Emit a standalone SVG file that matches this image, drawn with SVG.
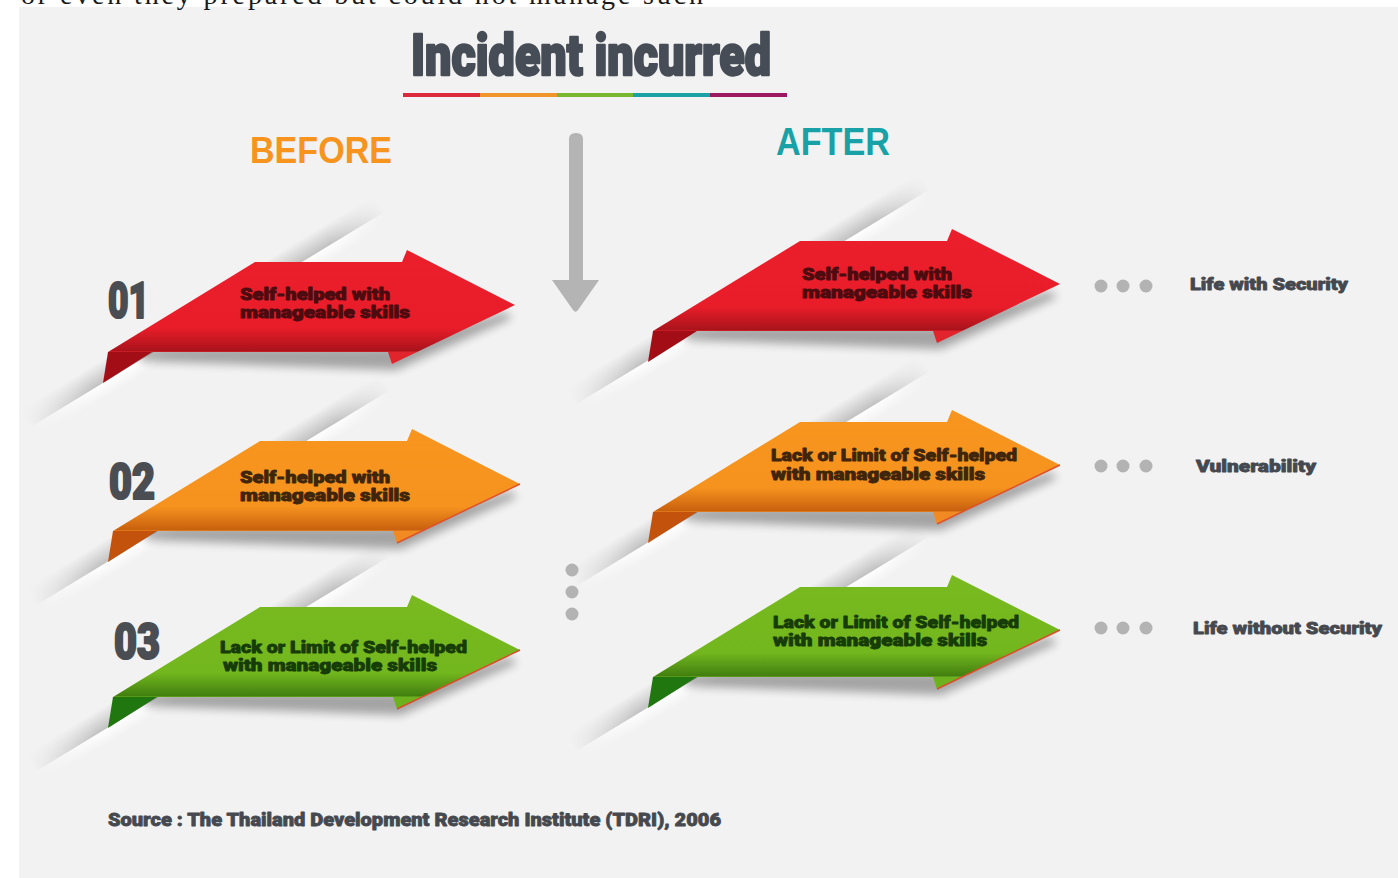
<svg xmlns="http://www.w3.org/2000/svg" xmlns:xlink="http://www.w3.org/1999/xlink" width="1398" height="878" viewBox="0 0 1398 878">
  <style>
    .heavy { font-family: Roboto, Inter, "Liberation Sans", sans-serif; font-weight: 900; stroke-linejoin: round; }
    .num { font-size: 50px; fill: #4a4d52; stroke: #4a4d52; stroke-width: 2.2px; }
    .lbl { font-size: 16px; stroke-width: 0.8px; }
    .side { font-size: 17px; fill: #45494f; stroke: #45494f; stroke-width: 0.8px; }
    .dot { fill: #b3b3b3; }
    .shadow { fill: #000; opacity: 0.32; filter: url(#soft); }
  </style>
  <defs>
    <filter id="soft" x="-20%" y="-50%" width="140%" height="200%">
      <feGaussianBlur stdDeviation="5"/>
    </filter>
    <!-- ribbon fills: flat colour with a darker fold band near the bottom -->
    <linearGradient id="gRed" x1="0" y1="250" x2="0" y2="364" gradientUnits="userSpaceOnUse">
      <stop offset="0" stop-color="#ea1f2b"/>
      <stop offset="0.68" stop-color="#e91d2a"/>
      <stop offset="0.885" stop-color="#a9131b"/>
      <stop offset="0.895" stop-color="#e2242c"/>
      <stop offset="1" stop-color="#e2242c"/>
    </linearGradient>
    <linearGradient id="gOrange" x1="0" y1="250" x2="0" y2="364" gradientUnits="userSpaceOnUse">
      <stop offset="0" stop-color="#f7951f"/>
      <stop offset="0.68" stop-color="#f6931e"/>
      <stop offset="0.885" stop-color="#c8600e"/>
      <stop offset="0.895" stop-color="#f18a22"/>
      <stop offset="1" stop-color="#f18a22"/>
    </linearGradient>
    <linearGradient id="gGreen" x1="0" y1="250" x2="0" y2="364" gradientUnits="userSpaceOnUse">
      <stop offset="0" stop-color="#78ba1f"/>
      <stop offset="0.68" stop-color="#73b71e"/>
      <stop offset="0.885" stop-color="#427f10"/>
      <stop offset="0.895" stop-color="#6cb21e"/>
      <stop offset="1" stop-color="#6cb21e"/>
    </linearGradient>
    <!-- paper slit: shadow above a thin highlight, fading at both ends -->
    <linearGradient id="fadeLen" x1="0" y1="0" x2="415" y2="0" gradientUnits="userSpaceOnUse">
      <stop offset="0" stop-color="#fff" stop-opacity="0"/>
      <stop offset="0.18" stop-color="#fff" stop-opacity="1"/>
      <stop offset="0.85" stop-color="#fff" stop-opacity="1"/>
      <stop offset="1" stop-color="#fff" stop-opacity="0"/>
    </linearGradient>
    <linearGradient id="shadeV" x1="0" y1="-20" x2="0" y2="0" gradientUnits="userSpaceOnUse">
      <stop offset="0" stop-color="#b8b8b8" stop-opacity="0"/>
      <stop offset="1" stop-color="#b8b8b8" stop-opacity="0.85"/>
    </linearGradient>
    <linearGradient id="lightV" x1="0" y1="0" x2="0" y2="14" gradientUnits="userSpaceOnUse">
      <stop offset="0" stop-color="#ffffff" stop-opacity="0.9"/>
      <stop offset="1" stop-color="#ffffff" stop-opacity="0"/>
    </linearGradient>
    <mask id="streakMask" maskUnits="userSpaceOnUse" x="-10" y="-40" width="440" height="70">
      <rect x="0" y="-40" width="415" height="70" fill="url(#fadeLen)"/>
    </mask>
    <g id="streak">
      <g mask="url(#streakMask)">
        <rect x="0" y="-20" width="415" height="20" fill="url(#shadeV)"/>
        <rect x="0" y="0" width="415" height="14" fill="url(#lightV)"/>
      </g>
    </g>
    <!-- base ribbon arrow outline -->
    <path id="ribbon" d="M255,262 L402,262 L407,250 L515,305 L392,364 L388,352 L108,352 Z"/>
    <path id="ribbonShadow" d="M140,347 L392,347 L505,312 L512,318 L396,370 L140,361 Z"/>
    <path id="ribbonFold" d="M108,352 L152,352 L103,383 Z"/>
  </defs>

  <!-- page -->
  <rect x="0" y="0" width="1398" height="878" fill="#ffffff"/>
  <rect x="19" y="7" width="1379" height="871" fill="#f2f2f2"/>
  <text x="21" y="4" font-family="'Liberation Serif', serif" font-size="28" fill="#1a1a1a" textLength="682" lengthAdjust="spacing">or even they prepared but could not manage such</text>

  <!-- slits in the paper behind each ribbon -->
  <g id="slits">
    <use xlink:href="#streak" transform="translate(30,427.5) rotate(-31.3)"/>
    <use xlink:href="#streak" transform="translate(35,606) rotate(-31.3)"/>
    <use xlink:href="#streak" transform="translate(35,772) rotate(-31.3)"/>
    <use xlink:href="#streak" transform="translate(575,405) rotate(-31.3)"/>
    <use xlink:href="#streak" transform="translate(575,587) rotate(-31.3)"/>
    <use xlink:href="#streak" transform="translate(575,752) rotate(-31.3)"/>
  </g>

  <!-- heading -->
  <g id="title">
    <text x="411" y="75" class="heavy" font-size="57" fill="#474d56" stroke="#474d56" stroke-width="2.4" textLength="360" lengthAdjust="spacingAndGlyphs">Incident incurred</text>
    <rect x="403" y="93" width="77" height="4" fill="#db2a3b"/>
    <rect x="480" y="93" width="77" height="4" fill="#f0952b"/>
    <rect x="557" y="93" width="76" height="4" fill="#78b72f"/>
    <rect x="633" y="93" width="77" height="4" fill="#1aa3a6"/>
    <rect x="710" y="93" width="77" height="4" fill="#9c1961"/>
  </g>
  <g id="before-heading">
    <text x="250" y="163" font-family="'Liberation Sans', Arial, sans-serif" font-weight="bold" font-size="37" fill="#f7941d" textLength="142" lengthAdjust="spacingAndGlyphs">BEFORE</text>
  </g>
  <g id="after-heading">
    <text x="776" y="155" font-family="'Liberation Sans', Arial, sans-serif" font-weight="bold" font-size="38" fill="#19a1a8" textLength="114" lengthAdjust="spacingAndGlyphs">AFTER</text>
  </g>

  <!-- BEFORE column -->
  <g id="before-01">
    <text x="108" y="318" class="heavy num" textLength="41" lengthAdjust="spacingAndGlyphs">01</text>
    <g>
      <use xlink:href="#ribbonShadow" class="shadow"/>
      <use xlink:href="#ribbon" fill="url(#gRed)"/>
      <use xlink:href="#ribbonFold" fill="#a30e16"/>
    </g>
    <g class="heavy lbl" fill="#4b0b0f" stroke="#4b0b0f">
      <text x="240" y="300" textLength="150" lengthAdjust="spacingAndGlyphs">Self-helped with</text>
      <text x="240" y="318" textLength="170" lengthAdjust="spacingAndGlyphs">manageable skills</text>
    </g>
  </g>

  <g id="before-02">
    <text x="109" y="499" class="heavy num" font-size="52" textLength="46" lengthAdjust="spacingAndGlyphs">02</text>
    <g transform="translate(5,179)">
      <use xlink:href="#ribbonShadow" class="shadow"/>
      <use xlink:href="#ribbon" fill="url(#gOrange)"/>
      <path d="M515,305 L392,364" stroke="#e0522a" stroke-width="1.5" fill="none"/>
      <use xlink:href="#ribbonFold" fill="#c2520c"/>
    </g>
    <g class="heavy lbl" fill="#3e250c" stroke="#3e250c">
      <text x="240" y="483" textLength="150" lengthAdjust="spacingAndGlyphs">Self-helped with</text>
      <text x="240" y="501" textLength="170" lengthAdjust="spacingAndGlyphs">manageable skills</text>
    </g>
  </g>

  <g id="before-03">
    <text x="114" y="659" class="heavy num" font-size="52" textLength="46" lengthAdjust="spacingAndGlyphs">03</text>
    <g transform="translate(5,345)">
      <use xlink:href="#ribbonShadow" class="shadow"/>
      <use xlink:href="#ribbon" fill="url(#gGreen)"/>
      <path d="M515,305 L392,364" stroke="#d9502a" stroke-width="1.5" fill="none"/>
      <use xlink:href="#ribbonFold" fill="#20760f"/>
    </g>
    <g class="heavy lbl" fill="#163c08" stroke="#163c08">
      <text x="220" y="653" textLength="247" lengthAdjust="spacingAndGlyphs">Lack or Limit of Self-helped</text>
      <text x="223" y="671" textLength="214" lengthAdjust="spacingAndGlyphs">with manageable skills</text>
    </g>
  </g>

  <!-- AFTER column -->
  <g id="after-01">
    <g transform="translate(545,-21)">
      <use xlink:href="#ribbonShadow" class="shadow"/>
      <use xlink:href="#ribbon" fill="url(#gRed)"/>
      <use xlink:href="#ribbonFold" fill="#a30e16"/>
    </g>
    <g class="heavy lbl" fill="#4b0b0f" stroke="#4b0b0f">
      <text x="802" y="280" textLength="150" lengthAdjust="spacingAndGlyphs">Self-helped with</text>
      <text x="802" y="298" textLength="170" lengthAdjust="spacingAndGlyphs">manageable skills</text>
    </g>
  </g>

  <g id="after-02">
    <g transform="translate(545,160)">
      <use xlink:href="#ribbonShadow" class="shadow"/>
      <use xlink:href="#ribbon" fill="url(#gOrange)"/>
      <path d="M515,305 L392,364" stroke="#e0522a" stroke-width="1.5" fill="none"/>
      <use xlink:href="#ribbonFold" fill="#c2520c"/>
    </g>
    <g class="heavy lbl" fill="#3e250c" stroke="#3e250c">
      <text x="771" y="461" textLength="246" lengthAdjust="spacingAndGlyphs">Lack or Limit of Self-helped</text>
      <text x="771" y="480" textLength="214" lengthAdjust="spacingAndGlyphs">with manageable skills</text>
    </g>
  </g>

  <g id="after-03">
    <g transform="translate(545,325)">
      <use xlink:href="#ribbonShadow" class="shadow"/>
      <use xlink:href="#ribbon" fill="url(#gGreen)"/>
      <path d="M515,305 L392,364" stroke="#d9502a" stroke-width="1.5" fill="none"/>
      <use xlink:href="#ribbonFold" fill="#20760f"/>
    </g>
    <g class="heavy lbl" fill="#163c08" stroke="#163c08">
      <text x="773" y="628" textLength="246" lengthAdjust="spacingAndGlyphs">Lack or Limit of Self-helped</text>
      <text x="773" y="646" textLength="214" lengthAdjust="spacingAndGlyphs">with manageable skills</text>
    </g>
  </g>

  <!-- outcomes -->
  <g id="outcome-security">
    <text x="1190" y="290" class="heavy side" textLength="158" lengthAdjust="spacingAndGlyphs">Life with Security</text>
  </g>
  <g id="outcome-vulnerability">
    <text x="1196" y="472" class="heavy side" textLength="120" lengthAdjust="spacingAndGlyphs">Vulnerability</text>
  </g>
  <g id="outcome-insecurity">
    <text x="1193" y="634" class="heavy side" textLength="189" lengthAdjust="spacingAndGlyphs">Life without Security</text>
  </g>

  <!-- connectors: the incident arrow and dotted leaders -->
  <g id="connectors">
    <path d="M569,139 Q569,133 576,133 Q583,133 583,139 L583,280 L599,280 L578,310 Q575.5,313.5 573,310 L552,280 L569,280 Z" fill="#b4b4b4"/>
    <circle class="dot" cx="572" cy="570" r="6.5"/>
    <circle class="dot" cx="572" cy="592" r="6.5"/>
    <circle class="dot" cx="572" cy="614" r="6.5"/>
    <circle class="dot" cx="1101" cy="286" r="6.5"/>
    <circle class="dot" cx="1123" cy="286" r="6.5"/>
    <circle class="dot" cx="1146" cy="286" r="6.5"/>
    <circle class="dot" cx="1101" cy="466" r="6.5"/>
    <circle class="dot" cx="1123" cy="466" r="6.5"/>
    <circle class="dot" cx="1146" cy="466" r="6.5"/>
    <circle class="dot" cx="1101" cy="628" r="6.5"/>
    <circle class="dot" cx="1123" cy="628" r="6.5"/>
    <circle class="dot" cx="1146" cy="628" r="6.5"/>
  </g>

  <!-- footnote -->
  <g id="source">
    <text x="108" y="826" class="heavy" font-size="19" fill="#45494f" stroke="#45494f" stroke-width="0.8" textLength="613" lengthAdjust="spacingAndGlyphs">Source : The Thailand Development Research Institute (TDRI), 2006</text>
  </g>
</svg>
